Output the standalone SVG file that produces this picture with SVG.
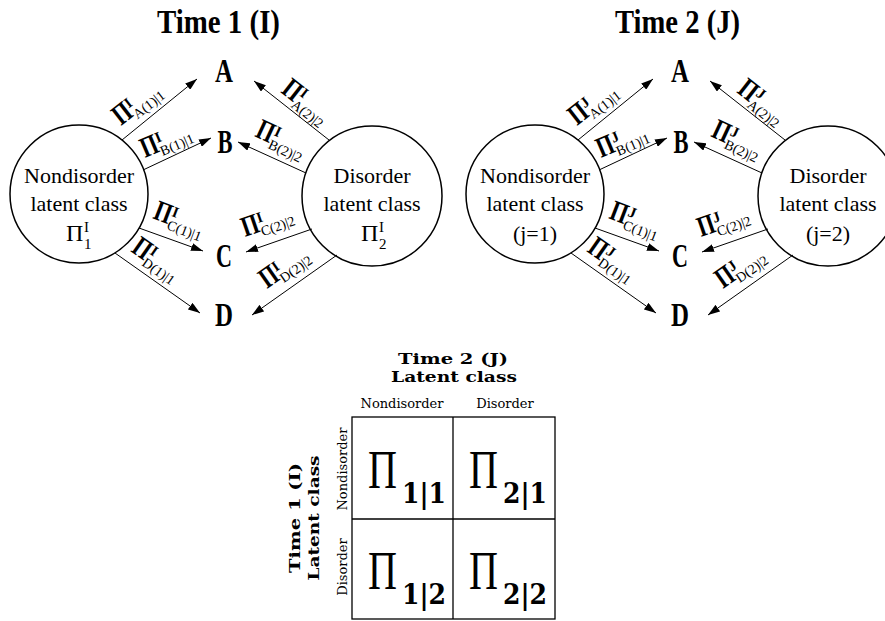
<svg xmlns="http://www.w3.org/2000/svg" width="885" height="621" viewBox="0 0 885 621">
<style>
.bg{fill:#fff}
.circ{fill:none;stroke:#000;stroke-width:1.5}
.ln{stroke:#000;stroke-width:1;fill:none}
.title{font-family:"Liberation Serif",serif;font-weight:bold;font-size:34px;fill:#000}
.let{font-family:"Liberation Serif",serif;font-weight:bold;font-size:33px;fill:#000;text-anchor:middle}
.ct{font-family:"Liberation Serif",serif;font-size:22px;fill:#000;text-anchor:middle}
.pi{font-family:"Liberation Serif",serif;font-weight:bold;font-size:29px;fill:#000}
.sup{font-family:"Liberation Serif",serif;font-weight:bold;font-size:15px;fill:#000}
.sub{font-family:"Liberation Serif",serif;font-size:14px;fill:#000}
.cpi{font-family:"Liberation Serif",serif;font-size:24px;fill:#000}
.csub{font-family:"Liberation Serif",serif;font-size:15px;fill:#000}
.tt{font-family:"DejaVu Serif",serif;font-weight:bold;font-size:15px;fill:#000;text-anchor:middle}
.th{font-family:"DejaVu Serif",serif;font-size:13px;fill:#000;text-anchor:middle}
.tbl{fill:none;stroke:#000;stroke-width:1.3}
.bpi{font-family:"Liberation Serif",serif;font-size:54px;fill:#000}
.bsub{font-family:"DejaVu Serif",serif;font-weight:bold;font-size:28px;fill:#000}
</style>
<defs>
<marker id="ah" markerUnits="userSpaceOnUse" markerWidth="12" markerHeight="8" viewBox="0 0 12 8" refX="12" refY="4" orient="auto">
<path d="M0,0 L12,4 L0,8 Z" fill="#000"/>
</marker>
</defs>
<rect class="bg" x="0" y="0" width="885" height="621"/>

<!-- Time 1 diagram -->
<g id="title1"><text class="title" x="157" y="33" textLength="123" lengthAdjust="spacingAndGlyphs">Time 1 (I)</text></g>
<g id="t1-nondisorder">
<circle class="circ" cx="79" cy="194" r="69"/>
<text class="ct" x="79" y="183">Nondisorder</text>
<text class="ct" x="79" y="211">latent class</text>
<text class="cpi" x="66" y="241">Π</text>
<text class="csub" x="84" y="232">I</text>
<text class="csub" x="84" y="249">1</text>
</g>
<g id="t1-disorder">
<circle class="circ" cx="372" cy="196" r="70"/>
<text class="ct" x="372" y="183">Disorder</text>
<text class="ct" x="372" y="211">latent class</text>
<text class="cpi" x="361" y="241">Π</text>
<text class="csub" x="379" y="232">I</text>
<text class="csub" x="379" y="249">2</text>
</g>
<g id="t1-A"><text class="let" x="224" y="82" textLength="18" lengthAdjust="spacingAndGlyphs">A</text></g>
<g id="t1-B"><text class="let" x="225" y="153" textLength="15" lengthAdjust="spacingAndGlyphs">B</text></g>
<g id="t1-C"><text class="let" x="224" y="267" textLength="16" lengthAdjust="spacingAndGlyphs">C</text></g>
<g id="t1-D"><text class="let" x="224" y="326" textLength="18" lengthAdjust="spacingAndGlyphs">D</text></g>

<!-- Time 2 diagram -->
<g id="title2"><text class="title" x="615" y="33" textLength="125" lengthAdjust="spacingAndGlyphs">Time 2 (J)</text></g>
<g id="t2-nondisorder">
<circle class="circ" cx="535" cy="194" r="69"/>
<text class="ct" x="535" y="183">Nondisorder</text>
<text class="ct" x="535" y="211">latent class</text>
<text class="ct" x="535" y="241">(j=1)</text>
</g>
<g id="t2-disorder">
<circle class="circ" cx="828" cy="196" r="70"/>
<text class="ct" x="828" y="183">Disorder</text>
<text class="ct" x="828" y="211">latent class</text>
<text class="ct" x="828" y="241">(j=2)</text>
</g>
<g id="t2-A"><text class="let" x="680" y="82" textLength="18" lengthAdjust="spacingAndGlyphs">A</text></g>
<g id="t2-B"><text class="let" x="681" y="153" textLength="15" lengthAdjust="spacingAndGlyphs">B</text></g>
<g id="t2-C"><text class="let" x="680" y="267" textLength="16" lengthAdjust="spacingAndGlyphs">C</text></g>
<g id="t2-D"><text class="let" x="680" y="326" textLength="18" lengthAdjust="spacingAndGlyphs">D</text></g>

<g id="connectors">
<line class="ln" x1="122" y1="140" x2="197" y2="79" marker-end="url(#ah)"/>
<line class="ln" x1="143" y1="170" x2="211" y2="138" marker-end="url(#ah)"/>
<line class="ln" x1="139" y1="228" x2="203" y2="251" marker-end="url(#ah)"/>
<line class="ln" x1="115" y1="253" x2="200" y2="313" marker-end="url(#ah)"/>
<line class="ln" x1="329" y1="140" x2="254" y2="81" marker-end="url(#ah)"/>
<line class="ln" x1="306" y1="173" x2="238" y2="142" marker-end="url(#ah)"/>
<line class="ln" x1="312" y1="229" x2="246" y2="252" marker-end="url(#ah)"/>
<line class="ln" x1="337" y1="255" x2="252" y2="315" marker-end="url(#ah)"/>

<line class="ln" x1="578" y1="140" x2="653" y2="79" marker-end="url(#ah)"/>
<line class="ln" x1="599" y1="170" x2="667" y2="138" marker-end="url(#ah)"/>
<line class="ln" x1="595" y1="228" x2="659" y2="251" marker-end="url(#ah)"/>
<line class="ln" x1="571" y1="253" x2="656" y2="313" marker-end="url(#ah)"/>
<line class="ln" x1="785" y1="140" x2="710" y2="81" marker-end="url(#ah)"/>
<line class="ln" x1="762" y1="173" x2="694" y2="142" marker-end="url(#ah)"/>
<line class="ln" x1="768" y1="229" x2="702" y2="252" marker-end="url(#ah)"/>
<line class="ln" x1="793" y1="255" x2="708" y2="315" marker-end="url(#ah)"/>
</g>

<g id="labels1">
<g transform="translate(121,126) rotate(-38)"><text class="pi" x="0" y="0" textLength="17" lengthAdjust="spacingAndGlyphs">Π</text><text class="sup" x="17" y="-9">I</text><text class="sub" x="17" y="5">A(1)|1</text></g>
<g transform="translate(145,158) rotate(-23)"><text class="pi" x="0" y="0" textLength="17" lengthAdjust="spacingAndGlyphs">Π</text><text class="sup" x="17" y="-9">I</text><text class="sub" x="17" y="5">B(1)|1</text></g>
<g transform="translate(152,218) rotate(21)"><text class="pi" x="0" y="0" textLength="17" lengthAdjust="spacingAndGlyphs">Π</text><text class="sup" x="17" y="-9">I</text><text class="sub" x="17" y="5">C(1)|1</text></g>
<g transform="translate(130,251) rotate(35)"><text class="pi" x="0" y="0" textLength="17" lengthAdjust="spacingAndGlyphs">Π</text><text class="sup" x="17" y="-9">I</text><text class="sub" x="17" y="5">D(1)|1</text></g>
<g transform="translate(280,92) rotate(38)"><text class="pi" x="0" y="0" textLength="17" lengthAdjust="spacingAndGlyphs">Π</text><text class="sup" x="17" y="-9">I</text><text class="sub" x="17" y="5">A(2)|2</text></g>
<g transform="translate(254,136) rotate(25)"><text class="pi" x="0" y="0" textLength="17" lengthAdjust="spacingAndGlyphs">Π</text><text class="sup" x="17" y="-9">I</text><text class="sub" x="17" y="5">B(2)|2</text></g>
<g transform="translate(245,237) rotate(-19)"><text class="pi" x="0" y="0" textLength="17" lengthAdjust="spacingAndGlyphs">Π</text><text class="sup" x="17" y="-9">I</text><text class="sub" x="17" y="5">C(2)|2</text></g>
<g transform="translate(267,289) rotate(-35)"><text class="pi" x="0" y="0" textLength="17" lengthAdjust="spacingAndGlyphs">Π</text><text class="sup" x="17" y="-9">I</text><text class="sub" x="17" y="5">D(2)|2</text></g>
</g>
<g id="labels2">
<g transform="translate(577,126) rotate(-38)"><text class="pi" x="0" y="0" textLength="17" lengthAdjust="spacingAndGlyphs">Π</text><text class="sup" x="17" y="-9">J</text><text class="sub" x="17" y="5">A(1)|1</text></g>
<g transform="translate(601,158) rotate(-23)"><text class="pi" x="0" y="0" textLength="17" lengthAdjust="spacingAndGlyphs">Π</text><text class="sup" x="17" y="-9">J</text><text class="sub" x="17" y="5">B(1)|1</text></g>
<g transform="translate(608,218) rotate(21)"><text class="pi" x="0" y="0" textLength="17" lengthAdjust="spacingAndGlyphs">Π</text><text class="sup" x="17" y="-9">J</text><text class="sub" x="17" y="5">C(1)|1</text></g>
<g transform="translate(586,251) rotate(35)"><text class="pi" x="0" y="0" textLength="17" lengthAdjust="spacingAndGlyphs">Π</text><text class="sup" x="17" y="-9">J</text><text class="sub" x="17" y="5">D(1)|1</text></g>
<g transform="translate(736,92) rotate(38)"><text class="pi" x="0" y="0" textLength="17" lengthAdjust="spacingAndGlyphs">Π</text><text class="sup" x="17" y="-9">J</text><text class="sub" x="17" y="5">A(2)|2</text></g>
<g transform="translate(710,136) rotate(25)"><text class="pi" x="0" y="0" textLength="17" lengthAdjust="spacingAndGlyphs">Π</text><text class="sup" x="17" y="-9">J</text><text class="sub" x="17" y="5">B(2)|2</text></g>
<g transform="translate(701,237) rotate(-19)"><text class="pi" x="0" y="0" textLength="17" lengthAdjust="spacingAndGlyphs">Π</text><text class="sup" x="17" y="-9">J</text><text class="sub" x="17" y="5">C(2)|2</text></g>
<g transform="translate(723,289) rotate(-35)"><text class="pi" x="0" y="0" textLength="17" lengthAdjust="spacingAndGlyphs">Π</text><text class="sup" x="17" y="-9">J</text><text class="sub" x="17" y="5">D(2)|2</text></g>
</g>

<!-- Transition table -->
<g id="table">
<text class="tt" x="453" y="364" textLength="110" lengthAdjust="spacingAndGlyphs">Time 2 (J)</text>
<text class="tt" x="454" y="382" textLength="126" lengthAdjust="spacingAndGlyphs">Latent class</text>
<text class="th" x="402" y="408">Nondisorder</text>
<text class="th" x="505" y="408">Disorder</text>
<text class="tt" transform="translate(300,518) rotate(-90)" x="0" y="0" textLength="110" lengthAdjust="spacingAndGlyphs">Time 1 (I)</text>
<text class="tt" transform="translate(319,518) rotate(-90)" x="0" y="0" textLength="125" lengthAdjust="spacingAndGlyphs">Latent class</text>
<text class="th" transform="translate(347,469) rotate(-90)" x="0" y="0">Nondisorder</text>
<text class="th" transform="translate(347,567) rotate(-90)" x="0" y="0">Disorder</text>
<rect class="tbl" x="352" y="417" width="203" height="202"/>
<line class="tbl" x1="453" y1="417" x2="453" y2="619"/>
<line class="tbl" x1="352" y1="519" x2="555" y2="519"/>
<text class="bpi" x="368" y="488" textLength="29" lengthAdjust="spacingAndGlyphs">Π</text>
<text class="bsub" x="402" y="503" textLength="44" lengthAdjust="spacingAndGlyphs">1|1</text>
<text class="bpi" x="469" y="488" textLength="29" lengthAdjust="spacingAndGlyphs">Π</text>
<text class="bsub" x="503" y="503" textLength="44" lengthAdjust="spacingAndGlyphs">2|1</text>
<text class="bpi" x="368" y="589" textLength="29" lengthAdjust="spacingAndGlyphs">Π</text>
<text class="bsub" x="402" y="604" textLength="44" lengthAdjust="spacingAndGlyphs">1|2</text>
<text class="bpi" x="469" y="589" textLength="29" lengthAdjust="spacingAndGlyphs">Π</text>
<text class="bsub" x="503" y="604" textLength="44" lengthAdjust="spacingAndGlyphs">2|2</text>
</g>
</svg>
